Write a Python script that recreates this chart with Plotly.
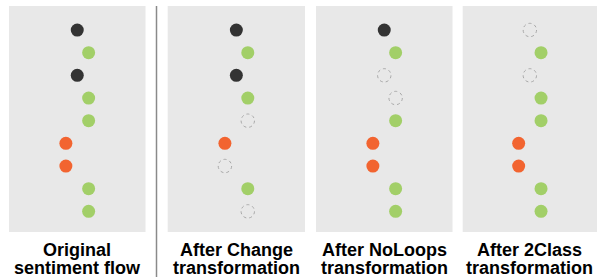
import plotly.graph_objects as go

# ---- data ----
positions = [1, 2, 3, 4, 5, 6, 7, 8, 9]
# sentiment of each sentence: -1 = negative, 0 = neutral, 1 = positive
sentiment = [0, 1, 0, 1, 1, -1, -1, 1, 1]
panel_names = ["Original", "Change", "NoLoops", "2Class"]
# 1 = sentence kept, 0 = sentence removed (dashed outline)
kept_original = [1, 1, 1, 1, 1, 1, 1, 1, 1]
kept_change = [1, 1, 1, 1, 0, 1, 0, 1, 0]
kept_noloops = [1, 1, 0, 0, 1, 1, 1, 1, 1]
kept_2class = [0, 1, 0, 1, 1, 1, 1, 1, 1]
title_line1 = ["Original", "After Change", "After NoLoops", "After 2Class"]
title_line2 = ["sentiment flow", "transformation", "transformation", "transformation"]

kept_sets = [kept_original, kept_change, kept_noloops, kept_2class]
colors = {-1: "#f26430", 0: "#333333", 1: "#a2cf68"}

W, H = 597, 277
panel_px = [(9, 145.5), (167.7, 305), (316, 452.5), (462.7, 597)]
top_px, bot_px = 6, 232

fig = go.Figure()
layout_axes = {}
for i, kept in enumerate(kept_sets):
    n = i + 1
    xa = "x" if n == 1 else f"x{n}"
    ya = "y" if n == 1 else f"y{n}"
    xs = [s for s, k in zip(sentiment, kept) if k]
    ys = [p for p, k in zip(positions, kept) if k]
    cs = [colors[s] for s, k in zip(sentiment, kept) if k]
    fig.add_trace(go.Scatter(
        x=xs, y=ys, mode="markers", xaxis=xa, yaxis=ya,
        marker=dict(size=13, color=cs, line=dict(width=0)),
        showlegend=False, hoverinfo="skip"))
    # removed sentences: dashed outlines
    for s, p, k in zip(sentiment, positions, kept):
        if not k:
            fig.add_shape(type="circle", xref=xa, yref=ya,
                          xsizemode="pixel", ysizemode="pixel",
                          xanchor=s, yanchor=p,
                          x0=-6.7, x1=6.7, y0=-6.7, y1=6.7,
                          line=dict(color="#a8a8a8", width=1, dash="dot"),
                          fillcolor="rgba(0,0,0,0)")
    x0, x1 = panel_px[i]
    key_x = "xaxis" if n == 1 else f"xaxis{n}"
    key_y = "yaxis" if n == 1 else f"yaxis{n}"
    layout_axes[key_x] = dict(domain=[x0 / W, x1 / W], range=[-6, 6],
                              visible=False, fixedrange=True, anchor=ya)
    layout_axes[key_y] = dict(domain=[1 - bot_px / H, 1 - top_px / H],
                              range=[9.91, -0.06], visible=False,
                              fixedrange=True, anchor=xa)
    # background panel
    fig.add_shape(type="rect", xref="paper", yref="paper",
                  x0=x0 / W, x1=x1 / W, y0=1 - bot_px / H, y1=1 - top_px / H,
                  fillcolor="#e8e8e8", line=dict(width=0), layer="below")
    cx = (x0 + x1) / 2 / W
    fig.add_annotation(x=cx, y=1 - 250 / H, xref="paper", yref="paper",
                       text=f"<b>{title_line1[i]}</b>", showarrow=False,
                       xanchor="center", yanchor="middle",
                       font=dict(size=18, color="#000000",
                                 family="Liberation Sans, Arial"))
    fig.add_annotation(x=cx, y=1 - 268 / H, xref="paper", yref="paper",
                       text=f"<b>{title_line2[i]}</b>", showarrow=False,
                       xanchor="center", yanchor="middle",
                       font=dict(size=18, color="#000000",
                                 family="Liberation Sans, Arial"))

# separator line
fig.add_shape(type="line", xref="paper", yref="paper",
              x0=156.5 / W, x1=156.5 / W, y0=0, y1=1 - 6 / H,
              line=dict(color="#8a8a8a", width=1.5))

fig.update_layout(width=W, height=H, margin=dict(l=0, r=0, t=0, b=0),
                  paper_bgcolor="white", plot_bgcolor="rgba(0,0,0,0)",
                  **layout_axes)
fig.write_html("out.html",
               config={"displayModeBar": False, "staticPlot": True},
               post_script="document.body.style.margin='0';"
                           "document.body.style.overflow='hidden';")
